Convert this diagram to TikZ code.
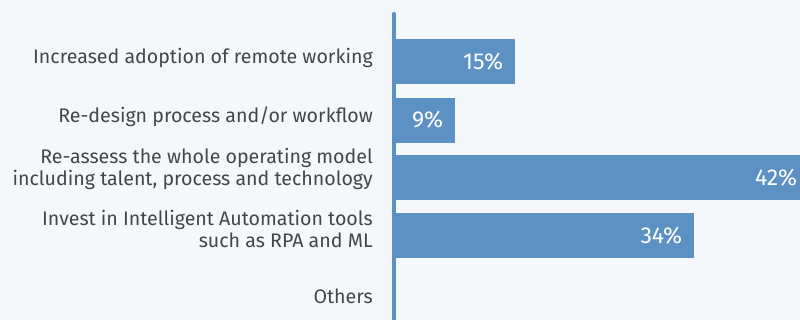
\documentclass[tikz,border=0pt]{standalone}
\usepackage{fontspec}
\setmainfont{Fira Sans}
\usetikzlibrary{positioning}
\definecolor{barblue}{HTML}{5D91C4}
\definecolor{bggray}{HTML}{F5F8FB}
\definecolor{labelgray}{HTML}{454545}
\tikzset{
    bar/.style={fill=barblue, draw=none, minimum height=45pt, inner sep=0pt, anchor=west},
    val/.style={text=white, font=\fontsize{23}{25}\selectfont, anchor=east, inner sep=0pt},
    cat/.style={text=labelgray, font=\fontsize{19.6}{21.7}\selectfont, align=right, anchor=east, inner sep=0pt}
}
\begin{document}
\begin{tikzpicture}[x=1pt, y=-1pt]
		\fill[bggray] (0,0) rectangle (800,320);
		\useasboundingbox (0,0) rectangle (800,320);
		\coordinate (top) at (393.5,14);
		\coordinate (bot) at (393.5,320);
		
		\node[bar, minimum width=120pt] (b1) at (395,61.7) {};
		\node[bar, minimum width=60pt, below=13pt of b1.south west, anchor=north west] (b2) {};
		\node[bar, minimum width=405pt, below=12pt of b2.south west, anchor=north west] (b3) {};
		\node[bar, minimum width=299pt, below=13pt of b3.south west, anchor=north west] (b4) {};
		
		\draw[barblue, line width=4pt, line cap=round] (top) -- (bot);
		
		\node[val, left=12pt of b1.east] (v1) {15\%};
		\node[val, left=12pt of b2.east] (v2) {9\%};
		\node[val, left=3pt of b3.east] (v3) {42\%};
		\node[val, left=12pt of b4.east] (v4) {34\%};
		
		\node[cat] (c1) at (373,57.5) {Increased adoption of remote working};
		\node[cat] (c2) at (373,116.5) {Re-design process and/or workflow};
		\node[cat] (c3) at (373,169) {Re-assess the whole operating model\\including talent, process and technology};
		\node[cat] (c4) at (373,229) {Invest in Intelligent Automation tools\\such as RPA and ML};
		\node[cat] (c5) at (373,296) {Others};
		\end{tikzpicture}
\end{document}
